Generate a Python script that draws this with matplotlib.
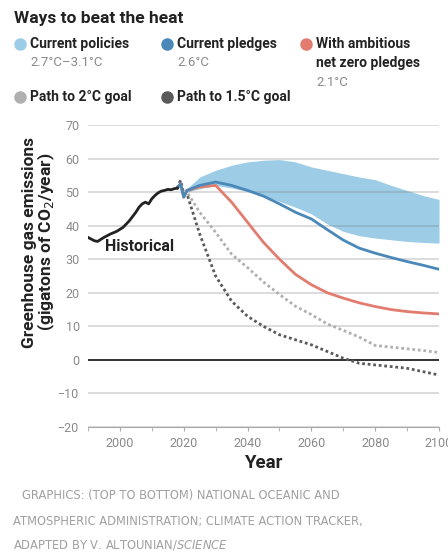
import matplotlib
matplotlib.use("Agg")
import matplotlib.pyplot as plt
from matplotlib.lines import Line2D

plt.rcParams["font.family"] = ["Roboto", "DejaVu Sans"]

# historical emissions
hist_years = [1990, 1991, 1992, 1993, 1995, 1997, 1999, 2001, 2003, 2005, 2006,
              2007, 2008, 2009, 2010, 2011, 2012, 2013, 2014, 2015, 2016, 2017, 2018]
hist_vals = [36.5, 36.0, 35.5, 35.3, 36.5, 37.5, 38.3, 39.5, 41.5, 44.0, 45.5,
             46.5, 47.0, 46.5, 48.0, 49.0, 49.8, 50.3, 50.5, 50.8, 50.7, 51.0, 51.2]

# scenarios
years = [2018, 2019, 2020, 2021, 2025, 2030, 2035, 2040, 2045, 2050,
         2055, 2060, 2065, 2070, 2075, 2080, 2085, 2090, 2095, 2100]
policies_hi = [51.2, 52.5, 48.5, 51.0, 54.5, 56.5, 58.0, 59.0, 59.5, 59.7,
               59.0, 57.5, 56.5, 55.5, 54.5, 53.7, 52.0, 50.5, 49.0, 47.8]
policies_lo = [51.2, 52.5, 48.5, 50.0, 51.0, 52.0, 51.2, 50.2, 49.0, 47.2,
               45.5, 43.5, 40.5, 38.3, 37.0, 36.3, 35.8, 35.3, 35.0, 34.8]
pledges = [51.2, 52.5, 48.5, 50.5, 52.0, 53.0, 52.0, 50.5, 48.8, 46.5,
           44.0, 42.0, 38.8, 35.7, 33.3, 31.8, 30.5, 29.3, 28.2, 27.0]
net_zero = [51.2, 52.5, 48.5, 50.5, 51.5, 52.0, 47.0, 41.0, 35.0, 30.0,
            25.5, 22.4, 20.0, 18.4, 17.0, 15.9, 15.0, 14.4, 14.0, 13.7]
path_2c = [51.2, 53.5, 49.5, 50.0, 44.0, 38.0, 31.5, 27.5, 23.2, 19.5,
           16.0, 13.5, 10.7, 8.8, 6.8, 4.3, 3.8, 3.3, 2.8, 2.2]
path_15c = [51.2, 53.5, 49.5, 49.5, 37.5, 25.0, 17.5, 13.0, 10.0, 7.5,
            6.0, 4.5, 2.5, 0.5, -1.0, -1.5, -2.0, -2.5, -3.5, -4.5]

yticks = [-20, -10, 0, 10, 20, 30, 40, 50, 60, 70]
xticks = [2000, 2020, 2040, 2060, 2080, 2100]

C_BAND = "#9dcde6"
C_PLEDGE = "#4a88b9"
C_NETZERO = "#e27c6f"
C_2C = "#b0b0b0"
C_15C = "#5a5a5a"
C_TEXT = "#222222"
C_SUB = "#8a8a8a"

fig = plt.figure(figsize=(4.48, 5.53), dpi=100)
ax = fig.add_axes([0.1964, 0.2278, 0.7836, 0.5462])

for y in yticks:
    if y == 0:
        continue
    ax.axhline(y, color="#777777", lw=1.2, alpha=0.3, zorder=2)
ax.axhline(0, color="#222222", lw=1.3, zorder=2)

ax.fill_between(years, policies_lo, policies_hi, color=C_BAND, lw=0, zorder=1)
ax.plot(hist_years, hist_vals, color="#222222", lw=2, zorder=4)
ax.plot(years, path_2c, color=C_2C, lw=2, ls=(0, (1, 1)), zorder=3)
ax.plot(years, path_15c, color=C_15C, lw=2, ls=(0, (1, 1)), zorder=3)
ax.plot(years, net_zero, color=C_NETZERO, lw=2, zorder=3)
ax.plot(years, pledges, color=C_PLEDGE, lw=2, zorder=3)

ax.text(1995.3, 33.9, "Historical", fontsize=11.5, fontweight="bold",
        color=C_TEXT, va="center", ha="left", zorder=5)

ax.set_xlim(1990, 2100)
ax.set_ylim(-20, 70)
ax.set_yticks(yticks)
ax.set_xticks(xticks)
ax.set_xticks(range(1990, 2101, 10), minor=True)
for s in ["left", "right", "top"]:
    ax.spines[s].set_visible(False)
ax.spines["bottom"].set_color("#aaaaaa")
ax.spines["bottom"].set_position(("data", -20))
ax.tick_params(axis="y", length=0, labelsize=9, labelcolor=C_SUB, pad=6)
ax.tick_params(axis="x", which="both", length=3, color="#aaaaaa",
               labelsize=9, labelcolor=C_SUB, pad=4)

ax.set_xlabel("Year", fontsize=13.5, fontweight="bold", color=C_TEXT, labelpad=3)
fig.text(0.066, 0.562, "Greenhouse gas emissions", rotation=90, fontsize=12.5,
         fontweight="bold", color=C_TEXT, ha="center", va="center")
fig.text(0.104, 0.562, "(gigatons of CO$_2$/year)", rotation=90, fontsize=12.5,
         fontweight="bold", color=C_TEXT, ha="center", va="center")

# title and legend
fig.text(14 / 448, 1 - 18 / 553, "Ways to beat the heat", fontsize=12.5,
         fontweight="bold", color=C_TEXT, va="center", ha="left")

legend_items = [
    (20, 44, C_BAND, ["Current policies"], "2.7°C–3.1°C"),
    (167, 44, C_PLEDGE, ["Current pledges"], "2.6°C"),
    (306, 44, C_NETZERO, ["With ambitious", "net zero pledges"], "2.1°C"),
    (20, 97, C_2C, ["Path to 2°C goal"], None),
    (167, 97, C_15C, ["Path to 1.5°C goal"], None),
]
for px, py, col, lines, sub in legend_items:
    fig.add_artist(Line2D([px / 448], [1 - py / 553], marker="o", markersize=8,
                          color=col, lw=0, transform=fig.transFigure))
    for i, t in enumerate(lines):
        fig.text((px + 10) / 448, 1 - (py + 19 * i) / 553, t, fontsize=10,
                 fontweight="bold", color=C_TEXT, va="center", ha="left")
    if sub:
        fig.text((px + 10) / 448, 1 - (py + 19 * len(lines)) / 553, sub,
                 fontsize=9.5, color=C_SUB, va="center", ha="left")

credit_lines = [
    (22, 495, "GRAPHICS: (TOP TO BOTTOM) NATIONAL OCEANIC AND"),
    (13, 521, "ATMOSPHERIC ADMINISTRATION; CLIMATE ACTION TRACKER,"),
    (13, 545, "ADAPTED BY V. ALTOUNIAN/$\\it{SCIENCE}$"),
]
for cx, cy, t in credit_lines:
    fig.text(cx / 448, 1 - cy / 553, t, fontsize=8.3, color="#a0a0a0",
             va="center", ha="left", family="DejaVu Sans")

fig.savefig("out.png", dpi=100)
